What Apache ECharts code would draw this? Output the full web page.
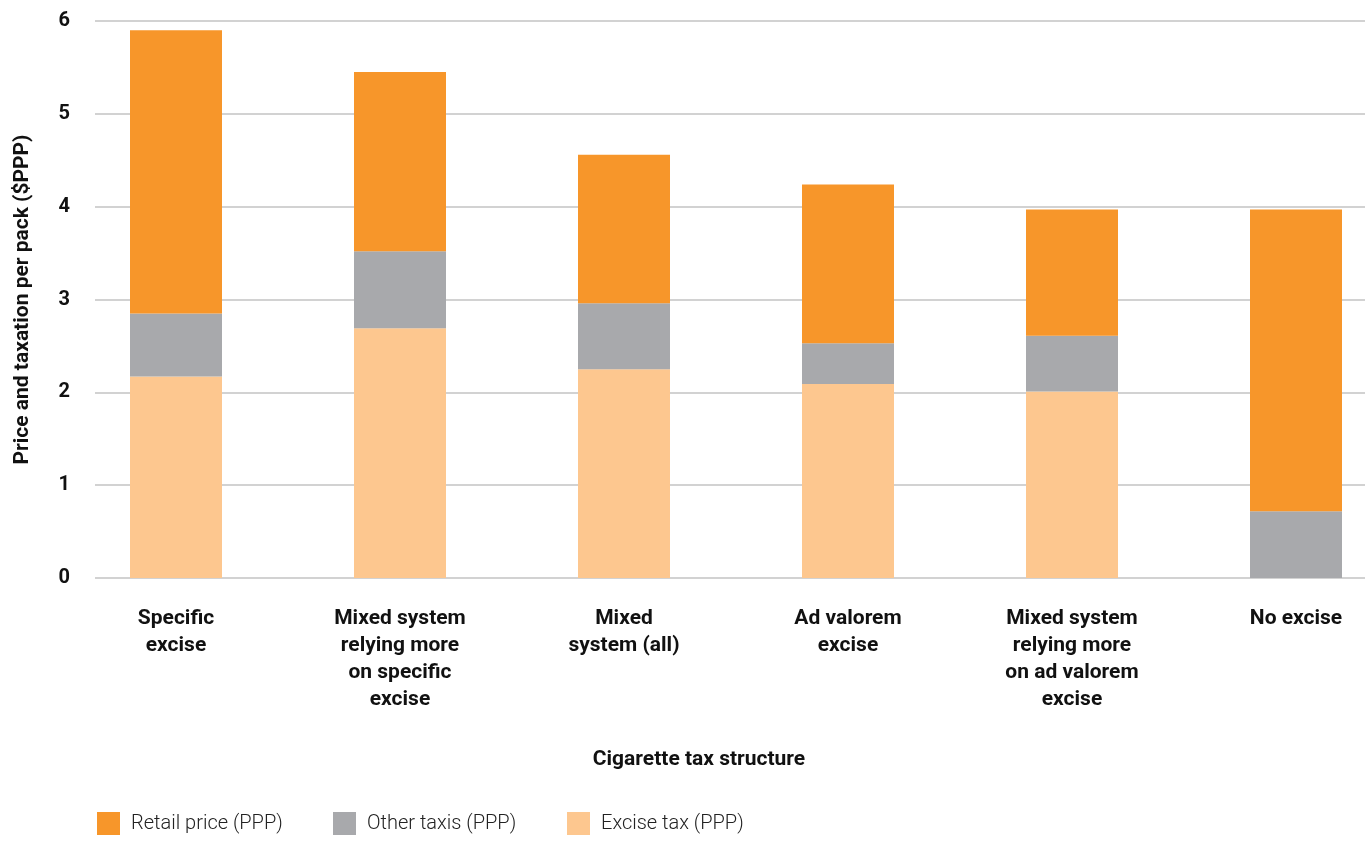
<!DOCTYPE html>
<html>
<head>
<meta charset="utf-8">
<script src="https://cdn.jsdelivr.net/npm/echarts@6/dist/echarts.min.js"></script>
<style>html,body{margin:0;padding:0;background:#fff;}#c{width:1365px;height:841px;}</style>
</head>
<body>
<div id="c"></div>
<script>
const categories = ["Specific\nexcise", "Mixed system\nrelying more\non specific\nexcise", "Mixed\nsystem (all)", "Ad valorem\nexcise", "Mixed system\nrelying more\non ad valorem\nexcise", "No excise"];
const exciseTax = [2.17, 2.69, 2.25, 2.09, 2.01, 0];
const otherTaxes = [0.68, 0.83, 0.71, 0.44, 0.60, 0.72];
const retailPrice = [3.05, 1.93, 1.60, 1.71, 1.36, 3.25];
const yTicks = [0, 1, 2, 3, 4, 5, 6];

const C_RETAIL = '#F7962A', C_OTHER = '#A8A9AC', C_EXCISE = '#FDC78F';
const FONT = 'Roboto';
const chart = echarts.init(document.getElementById('c'));
chart.setOption({
  animation: false,
  textStyle: {fontFamily: FONT},
  grid: [
    {left: 64, width: 1344, top: 21, height: 557, containLabel: false, outerBoundsMode: 'none'},
    {left: 95, right: 0, top: 21, height: 557, containLabel: false, outerBoundsMode: 'none'}
  ],
  title: {
    text: 'Cigarette tax structure', left: 694, top: 744, textAlign: 'center',
    textStyle: {fontFamily: FONT, fontSize: 21, fontWeight: 'bold', color: '#111'}
  },
  legend: [
    {data: ['Retail price (PPP)'], left: 97, top: 812},
    {data: ['Other taxis (PPP)'], left: 333, top: 812},
    {data: ['Excise tax (PPP)'], left: 567, top: 812}
  ].map(l => Object.assign(l, {
    padding: 0, itemWidth: 23, itemHeight: 23, itemGap: 10, icon: 'rect',
    textStyle: {fontFamily: FONT, fontSize: 20, fontWeight: 300, color: '#222', padding: [10, 0, 0, 6]}
  })),
  xAxis: [
    {type: 'category', gridIndex: 0, data: categories,
     axisLine: {show: false}, axisTick: {show: false},
     axisLabel: {fontFamily: FONT, fontSize: 21, fontWeight: 'bold', color: '#111', lineHeight: 27, margin: 27}},
    {type: 'value', gridIndex: 1, show: false, min: 0, max: 1}
  ],
  yAxis: [
    {type: 'value', gridIndex: 0, min: 0, max: 6, interval: 1, show: false, splitLine: {show: false}},
    {type: 'value', gridIndex: 1, min: 0, max: 6, interval: 1,
     axisLine: {show: false}, axisTick: {show: false},
     splitLine: {lineStyle: {color: '#C3C3C3', width: 1.5}},
     axisLabel: {fontFamily: FONT, fontSize: 20, fontWeight: 'bold', color: '#111', margin: 25,
       formatter: v => yTicks.includes(v) ? String(v) : ''},
     name: 'Price and taxation per pack ($PPP)', nameLocation: 'middle', nameGap: 62, nameRotate: 90,
     nameTextStyle: {fontFamily: FONT, fontSize: 21, fontWeight: 'bold', color: '#111'}}
  ],
  series: [
    {name: 'Excise tax (PPP)', type: 'bar', stack: 't', data: exciseTax, barWidth: 92, itemStyle: {color: C_EXCISE}, z: 3},
    {name: 'Other taxis (PPP)', type: 'bar', stack: 't', data: otherTaxes, barWidth: 92, itemStyle: {color: C_OTHER}, z: 3},
    {name: 'Retail price (PPP)', type: 'bar', stack: 't', data: retailPrice, barWidth: 92, itemStyle: {color: C_RETAIL}, z: 3}
  ]
});
</script>
</body>
</html>
